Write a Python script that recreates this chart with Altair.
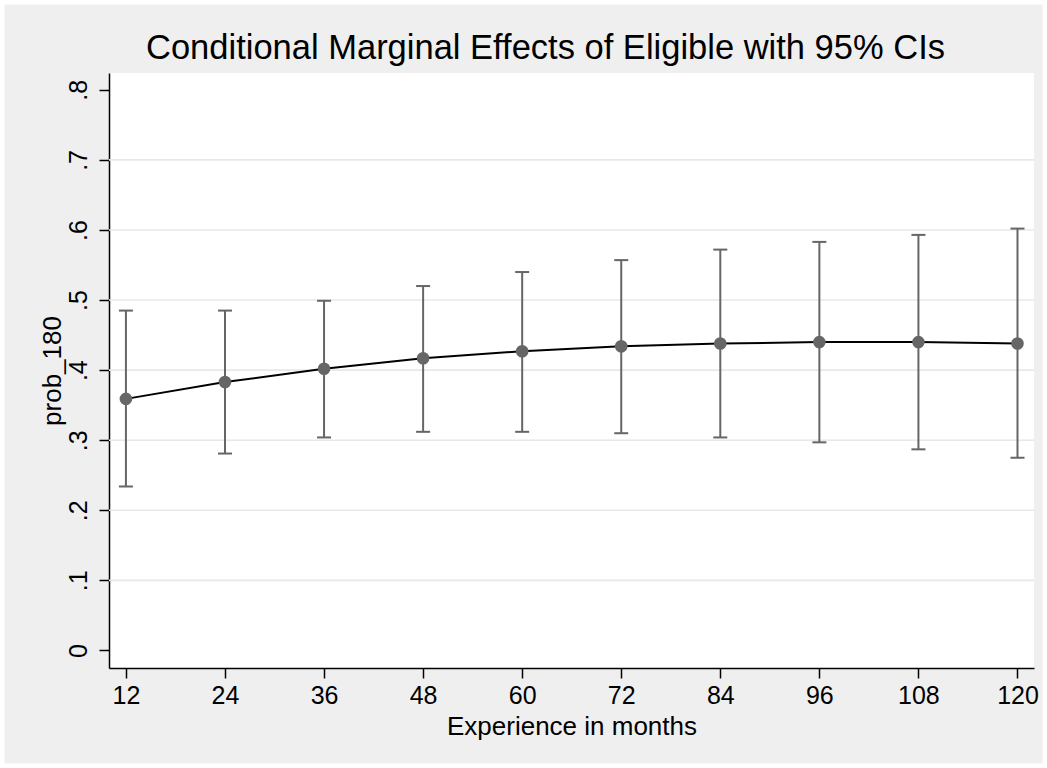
import altair as alt
import pandas as pd

# Margins at each experience level (months)
months = [12, 24, 36, 48, 60, 72, 84, 96, 108, 120]
estimate = [0.359, 0.383, 0.402, 0.417, 0.427, 0.434, 0.438, 0.440, 0.440, 0.438]
ci_low = [0.234, 0.281, 0.304, 0.312, 0.312, 0.310, 0.304, 0.297, 0.287, 0.275]
ci_high = [0.485, 0.485, 0.499, 0.520, 0.540, 0.557, 0.572, 0.583, 0.593, 0.602]

y_ticks = [0, 0.1, 0.2, 0.3, 0.4, 0.5, 0.6, 0.7, 0.8]
grid_levels = [0.1, 0.2, 0.3, 0.4, 0.5, 0.6, 0.7]

W, H = 925, 595
PAD = {"left": 109, "top": 73, "right": 13, "bottom": 100}
FONT = "Liberation Sans"
BAR_GRAY = "#666666"
FRAME_W = 9

df = pd.DataFrame({"months": months, "est": estimate, "lo": ci_low, "hi": ci_high})
grid_df = pd.DataFrame({"g": grid_levels})

x_scale = alt.Scale(domain=[9.95, 122], nice=False, zero=False)
y_scale = alt.Scale(domain=[-0.025, 0.824], nice=False, zero=False)

x_axis = alt.Axis(
    values=months, title="Experience in months", grid=False,
    tickSize=10, tickWidth=1.5, tickColor="black",
    domainColor="black", domainWidth=1.5,
    labelFont=FONT, labelFontSize=25, labelColor="black",
    labelBaseline="top", labelPadding=5, labelFlush=False, labelOverlap=False,
    titleFont=FONT, titleFontSize=26, titleFontWeight="normal", titleColor="black",
    titleBaseline="alphabetic", titleY=66,
)
y_axis = alt.Axis(
    values=y_ticks, title="prob_180", grid=False,
    labelExpr="datum.value == 0 ? '0' : replace(format(datum.value, '.1f'), '0.', '.')",
    tickSize=10, tickWidth=1.5, tickColor="black",
    domainColor="black", domainWidth=1.5,
    labelFont=FONT, labelFontSize=25, labelColor="black",
    labelAngle=270, labelAlign="center", labelBaseline="alphabetic",
    labelPadding=13, labelFlush=False, labelOverlap=False,
    titleFont=FONT, titleFontSize=26, titleFontWeight="normal", titleColor="black",
    titleAngle=270, titleAlign="center", titleBaseline="alphabetic",
    titleX=-49, titleY=H / 2,
)

base = alt.Chart(df)

grid = alt.Chart(grid_df).mark_rule(color="#e8e8e8", strokeWidth=1.6).encode(
    y=alt.Y("g:Q", scale=y_scale, axis=y_axis),
    x=alt.value(0), x2=alt.value(W),
)

bars = base.mark_rule(color=BAR_GRAY, strokeWidth=2).encode(
    x=alt.X("months:Q", scale=x_scale, axis=x_axis),
    y=alt.Y("lo:Q", scale=y_scale, axis=y_axis),
    y2="hi:Q",
)
cap_lo = base.mark_tick(color=BAR_GRAY, orient="horizontal", size=14, thickness=2, opacity=1).encode(
    x=alt.X("months:Q", scale=x_scale), y=alt.Y("lo:Q", scale=y_scale)
)
cap_hi = base.mark_tick(color=BAR_GRAY, orient="horizontal", size=14, thickness=2, opacity=1).encode(
    x=alt.X("months:Q", scale=x_scale), y=alt.Y("hi:Q", scale=y_scale)
)
line = base.mark_line(color="black", strokeWidth=2).encode(
    x=alt.X("months:Q", scale=x_scale), y=alt.Y("est:Q", scale=y_scale)
)
points = base.mark_circle(color=BAR_GRAY, size=160, opacity=1).encode(
    x=alt.X("months:Q", scale=x_scale), y=alt.Y("est:Q", scale=y_scale)
)

# thin white margin around the gray graph region
frame = alt.Chart(pd.DataFrame({"k": [0]})).mark_rect(
    fillOpacity=0, stroke="white", strokeWidth=FRAME_W
).encode(
    x=alt.value(-PAD["left"]), x2=alt.value(W + PAD["right"]),
    y=alt.value(-PAD["top"]), y2=alt.value(H + PAD["bottom"]),
)

# the frame extends the layer's bounds up to the canvas edge, so the title is
# shifted back down to sit just above the plot area
title_offset = 13
title_dy = PAD["top"] + FRAME_W / 2 + 33

chart = alt.layer(grid, bars, cap_lo, cap_hi, line, points, frame).properties(
    width=W, height=H,
    title=alt.TitleParams(
        "Conditional Marginal Effects of Eligible with 95% CIs",
        font=FONT, fontSize=34.5, fontWeight="normal", color="black",
        anchor="middle", frame="group", dx=-26, dy=title_dy,
        offset=title_offset, baseline="alphabetic",
    ),
    background="#efefef",
    padding=PAD,
    autosize=alt.AutoSizeParams(type="none"),
).configure_view(fill="white", stroke=None)

chart.save("out.html", embed_options={"renderer": "svg", "actions": False})
